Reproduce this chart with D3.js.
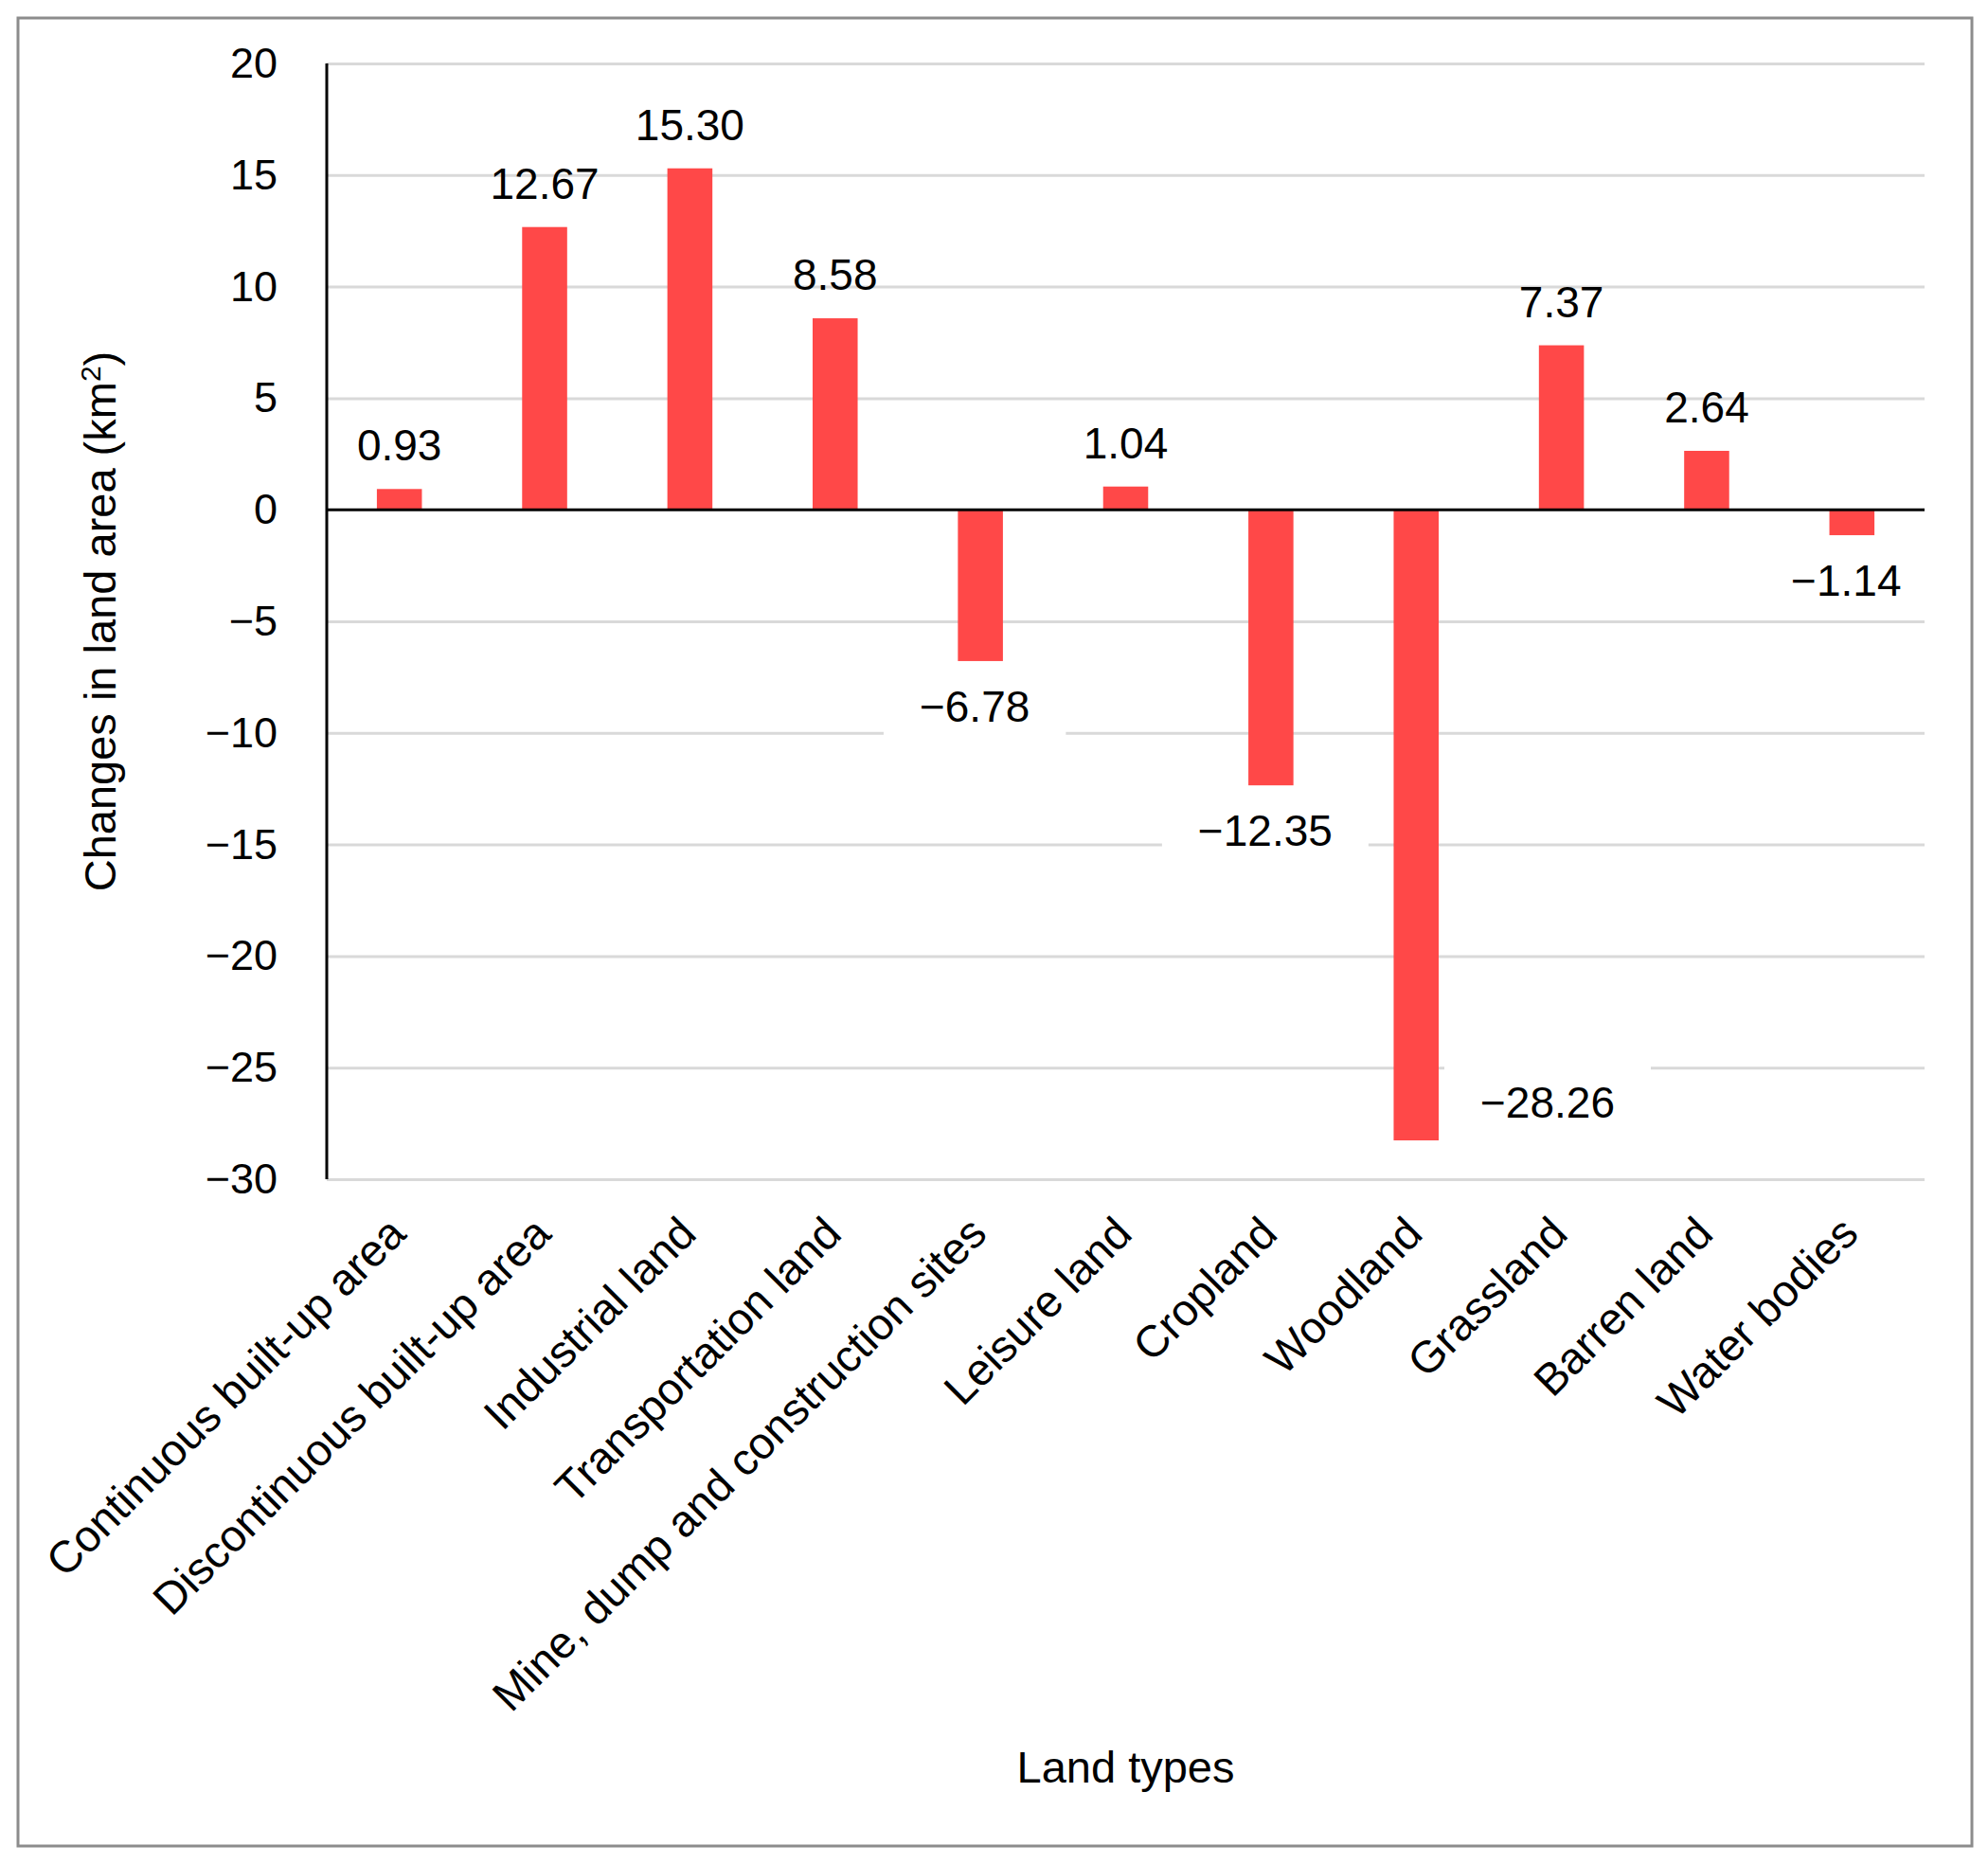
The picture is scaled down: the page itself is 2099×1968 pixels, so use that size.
<!DOCTYPE html>
<html>
<head>
<meta charset="utf-8">
<script src="https://cdn.jsdelivr.net/npm/d3@7"></script>
<style>
  body { margin: 0; background: #fff; }
  text { font-family: "Liberation Sans", Arial, sans-serif; fill: #000; }
</style>
</head>
<body>
<div id="chart"></div>
<script>
// Chart values
var categories = [
  "Continuous built-up area",
  "Discontinuous built-up area",
  "Industrial land",
  "Transportation land",
  "Mine, dump and construction sites",
  "Leisure land",
  "Cropland",
  "Woodland",
  "Grassland",
  "Barren land",
  "Water bodies"
];
var changes = [0.93, 12.67, 15.30, 8.58, -6.78, 1.04, -12.35, -28.26, 7.37, 2.64, -1.14];
var yTicks  = [20, 15, 10, 5, 0, -5, -10, -15, -20, -25, -30];

// Page and plot geometry
var width     = 2099,
    height    = 1968,
    plot      = { left: 345, right: 2032, top: 67, bottom: 1245 },
    tickFont  = 45,
    valueFont = 46,
    labelFont = 47,
    barColor  = "#ff4848";

var svg = d3.select("#chart")
  .append("svg")
    .attr("width", width)
    .attr("height", height);

// Outer frame
svg.append("rect")
    .attr("x", 19)
    .attr("y", 19)
    .attr("width", 2063)
    .attr("height", 1930)
    .style("fill", "none")
    .style("stroke", "#8c8c8c")
    .style("stroke-width", 3);

var x = d3.scaleBand()
    .domain(categories)
    .range([plot.left, plot.right])
    .paddingInner(0.69)
    .paddingOuter(0.345);

var y = d3.scaleLinear()
    .domain([d3.min(yTicks), d3.max(yTicks)])
    .range([plot.bottom, plot.top]);

var fmt = d3.format(".2f");

// Horizontal gridlines (zero line is drawn black later)
svg.append("g")
    .attr("class", "grid")
    .attr("transform", "translate(" + plot.left + ",0)")
    .call(d3.axisLeft(y).tickValues(yTicks.filter(function(t) { return t !== 0; }))
            .tickSize(-(plot.right - plot.left)).tickFormat(""))
    .call(function(g) { g.select(".domain").remove(); })
    .selectAll("line")
      .style("stroke", "#d9d9d9")
      .style("stroke-width", 3);

// Y tick labels
svg.append("g")
    .attr("transform", "translate(" + plot.left + ",0)")
    .call(d3.axisLeft(y).tickValues(yTicks).tickSize(0).tickPadding(52))
    .call(function(g) { g.select(".domain").remove(); })
    .selectAll("text")
      .style("font-size", tickFont + "px")
      .style("font-family", "'Liberation Sans', Arial, sans-serif")
      .attr("fill", "#000");

// Bars
var data = categories.map(function(c, i) { return { cat: c, value: changes[i] }; });

svg.append("g")
  .selectAll("rect")
  .data(data)
  .enter()
  .append("rect")
    .attr("x", function(d) { return x(d.cat); })
    .attr("width", x.bandwidth())
    .attr("y", function(d) { return y(Math.max(0, d.value)); })
    .attr("height", function(d) { return Math.abs(y(d.value) - y(0)); })
    .style("fill", barColor);

// Zero line and y axis line
svg.append("line")
    .attr("x1", plot.left).attr("x2", plot.right)
    .attr("y1", y(0)).attr("y2", y(0))
    .style("stroke", "#000")
    .style("stroke-width", 3);

svg.append("line")
    .attr("x1", plot.left).attr("x2", plot.left)
    .attr("y1", plot.top).attr("y2", plot.bottom)
    .style("stroke", "#000")
    .style("stroke-width", 3);

// Value labels: above positive bars, below negative ones (beside when no room)
var labelLayer = svg.append("g");
data.forEach(function(d) {
  var cx = x(d.cat) + x.bandwidth() / 2,
      g  = labelLayer.append("g"),
      t  = g.append("text")
             .style("font-size", valueFont + "px")
             .text(fmt(d.value));

  if (d.value >= 0) {
    t.attr("x", cx).attr("y", y(d.value) - 30).attr("text-anchor", "middle");
    return;
  }
  var below = y(d.value) + 64;
  if (below > plot.bottom) {
    t.attr("x", x(d.cat) + x.bandwidth() + 44).attr("y", y(d.value) - 24).attr("text-anchor", "start");
  } else {
    t.attr("x", cx - 6).attr("y", below).attr("text-anchor", "middle");
  }
  // white backing box that breaks the gridlines around negative labels
  var bb = t.node().getBBox(),
      mid = bb.y + bb.height / 2;
  g.insert("rect", "text")
      .attr("x", bb.x - 38)
      .attr("y", mid - 40)
      .attr("width", bb.width + 76)
      .attr("height", 80)
      .style("fill", "#fff");
});

// Rotated category labels
svg.append("g")
  .selectAll("text")
  .data(categories)
  .enter()
  .append("text")
    .attr("transform", function(d) {
      return "translate(" + (x(d) + x.bandwidth() / 2 + 9) + "," + (plot.bottom + 60) + ") rotate(-45)";
    })
    .attr("text-anchor", "end")
    .style("font-size", labelFont + "px")
    .text(function(d) { return d; });

// Axis titles
var yTitle = svg.append("text")
    .attr("transform", "translate(122," + ((plot.top + plot.bottom) / 2) + ") rotate(-90)")
    .attr("text-anchor", "middle")
    .style("font-size", labelFont + "px");
yTitle.append("tspan").text("Changes in land area (km");
yTitle.append("tspan").attr("baseline-shift", "super").style("font-size", "30px").text("2");
yTitle.append("tspan").text(")");

svg.append("text")
    .attr("x", (plot.left + plot.right) / 2)
    .attr("y", 1882)
    .attr("text-anchor", "middle")
    .style("font-size", labelFont + "px")
    .text("Land types");
</script>
</body>
</html>
